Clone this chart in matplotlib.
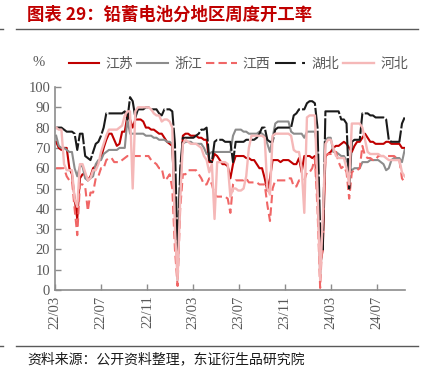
import matplotlib
matplotlib.use('Agg')
import matplotlib.pyplot as plt
import matplotlib.dates as mdates
from matplotlib.lines import Line2D
import pandas as pd

plt.rcParams['font.family'] = ['Noto Sans CJK SC', 'DejaVu Sans']

# weekly operating rate, %
dates = pd.date_range('2022-03-04', periods=133, freq='7D')

jiangsu = [73, 70, 69, 70, 70, 60, 57, 45, 35, 55,
           57, 57, 54, 56, 60, 61, 63, 65, 70, 74,
           77, 77, 74, 71, 72, 78, 78, 86, 84, 80,
           84, 84, 84, 83, 80, 80, 79, 79, 78, 77,
           77, 75, 73, 72, 71, 40, 10, 50, 76, 77,
           77, 76, 76, 76, 75, 75, 74, 74, 63, 63,
           67, 66, 64, 62, 62, 61, 55, 62, 66, 66,
           66, 66, 65, 65, 64, 64, 62, 60, 60, 55,
           49, 55, 64, 64, 64, 63, 64, 64, 64, 63,
           62, 62, 65, 58, 66, 66, 66, 65, 66, 50,
           12, 20, 66, 67, 68, 70, 71, 71, 72, 73,
           72, 70, 68, 71, 73, 73, 75, 77, 75, 73,
           73, 72, 72, 72, 72, 73, 73, 72, 72, 72,
           72, 70, 70]

zhejiang = [76, 71, 70, 70, 69, 68, 68, 60, 56, 61,
            61, 55, 54, 55, 56, 62, 64, 64, 67, 68,
            69, 69, 69, 69, 70, 70, 70, 84, 77, 77,
            77, 77, 77, 77, 76, 76, 76, 75, 75, 74,
            74, 74, 73, 73, 72, 40, 5, 55, 72, 73,
            73, 73, 72, 72, 72, 72, 70, 67, 67, 68,
            68, 68, 68, 68, 68, 68, 68, 76, 79, 79,
            79, 78, 78, 77, 77, 77, 77, 78, 77, 76,
            72, 68, 75, 82, 83, 83, 83, 83, 83, 78,
            77, 77, 77, 77, 75, 78, 78, 78, 78, 70,
            6, 30, 74, 75, 75, 68, 68, 67, 66, 66,
            64, 60, 59, 60, 60, 60, 63, 63, 63, 64,
            64, 64, 64, 63, 62, 59, 60, 64, 65, 65,
            65, 63, 69]

jiangxi = [60, 60, 60, 60, 56, 54, 54, 40, 27, 52,
           52, 51, 39, 48, 48, 55, 56, 60, 60, 64,
           65, 65, 63, 63, 63, 64, 65, 66, 66, 66,
           66, 66, 66, 66, 66, 66, 64, 63, 62, 60,
           60, 54, 55, 57, 50, 20, 2, 40, 57, 57,
           59, 59, 59, 59, 57, 55, 52, 52, 55, 52,
           47, 46, 46, 46, 46, 45, 38, 52, 54, 54,
           54, 54, 55, 53, 53, 53, 53, 52, 52, 52,
           42, 34, 50, 54, 54, 54, 54, 54, 55, 55,
           51, 51, 54, 54, 54, 58, 58, 60, 65, 40,
           1, 30, 66, 67, 67, 68, 68, 63, 60, 61,
           58, 45, 58, 59, 59, 60, 71, 66, 65, 65,
           64, 64, 66, 66, 66, 66, 66, 66, 66, 65,
           64, 55, 53]

hubei = [80, 80, 80, 79, 78, 78, 78, 77, 69, 77,
         77, 66, 65, 64, 68, 72, 73, 76, 80, 87,
         87, 87, 87, 87, 87, 87, 88, 84, 95, 93,
         85, 89, 89, 89, 90, 90, 89, 89, 89, 87,
         86, 89, 89, 89, 88, 72, 15, 60, 75, 75,
         75, 75, 75, 76, 77, 79, 79, 80, 64, 63,
         73, 74, 74, 74, 73, 73, 73, 63, 73, 73,
         73, 73, 74, 74, 74, 74, 75, 77, 80, 80,
         74, 73, 73, 79, 80, 80, 80, 80, 80, 80,
         86, 87, 89, 89, 89, 92, 93, 93, 92, 80,
         30, 20, 88, 88, 88, 88, 88, 88, 84, 84,
         82, 50, 73, 74, 74, 74, 87, 87, 87, 86,
         86, 85, 85, 85, 85, 84, 74, 73, 73, 73,
         73, 82, 85]

hebei = [80, 79, 79, 62, 59, 59, 59, 45, 41, 62,
         62, 58, 54, 55, 59, 59, 62, 68, 72, 76,
         79, 79, 79, 79, 80, 81, 86, 88, 88, 50,
         88, 90, 90, 90, 90, 90, 89, 87, 86, 86,
         83, 84, 84, 83, 80, 30, 5, 45, 72, 74,
         73, 72, 72, 72, 71, 70, 66, 64, 58, 62,
         35, 63, 63, 63, 63, 62, 46, 50, 50, 49,
         49, 50, 56, 70, 76, 76, 76, 76, 76, 75,
         50, 47, 76, 77, 77, 77, 77, 77, 77, 76,
         69, 68, 68, 60, 38, 85, 86, 86, 86, 50,
         5, 35, 72, 74, 74, 70, 66, 65, 65, 65,
         60, 52, 82, 82, 82, 82, 80, 74, 68, 67,
         67, 67, 67, 66, 66, 65, 64, 64, 64, 64,
         64, 58, 56]

tick_dates = pd.to_datetime(['2022-03-01', '2022-07-01', '2022-11-01', '2023-03-01',
                             '2023-07-01', '2023-11-01', '2024-03-01', '2024-07-01'])

fig = plt.figure(figsize=(4.39, 3.83), dpi=100)
ax = fig.add_axes([55/439, 1 - 290/383, 350/439, 203/383])

ax.plot(dates, jiangsu, color='#c00000', lw=1.5, label='江苏')
ax.plot(dates, zhejiang, color='#8c8c8c', lw=1.5, label='浙江')
ax.plot(dates, jiangxi, color='#f06666', lw=1.5, dashes=(4, 2), label='江西')
ax.plot(dates, hubei, color='#1a1a1a', lw=1.5, dashes=(10, 1), label='湖北')
ax.plot(dates, hebei, color='#f5b8b8', lw=1.7, label='河北')

ax.set_xlim(pd.Timestamp('2022-03-01'), pd.Timestamp('2024-09-14'))
ax.set_ylim(0, 100)
ax.set_yticks(range(0, 101, 10))
ax.set_xticks(tick_dates)
ax.xaxis.set_major_formatter(mdates.DateFormatter('%y/%m'))

for s in ['top', 'right']:
    ax.spines[s].set_visible(False)
for s in ['left', 'bottom']:
    ax.spines[s].set_color('#8c8c8c')
    ax.spines[s].set_linewidth(1.2)

ax.tick_params(axis='both', direction='in', length=4, width=1, color='#8c8c8c',
               labelcolor='#595959', labelsize=10.5)
ax.tick_params(axis='x', rotation=90, pad=4)
for lab in ax.get_xticklabels() + ax.get_yticklabels():
    lab.set_family('Liberation Serif')

# legend
handles = [Line2D([], [], color='#c00000', lw=1.5),
           Line2D([], [], color='#8c8c8c', lw=1.5),
           Line2D([], [], color='#f06666', lw=1.5, dashes=(4, 2)),
           Line2D([], [], color='#1a1a1a', lw=1.5, dashes=(10, 3)),
           Line2D([], [], color='#f5b8b8', lw=1.7)]
fig.legend(handles, ['江苏', '浙江', '江西', '湖北', '河北'], ncol=5, frameon=False,
           loc='center left', bbox_to_anchor=(56/439, 1 - 64/383),
           handlelength=2.2, handletextpad=0.45, columnspacing=0.3,
           prop={'family': ['Noto Sans CJK SC', 'DejaVu Sans'], 'size': 10},
           labelcolor='#595959')
fig.text(33/439, 1 - 62/383, '%', fontsize=10.5, color='#595959',
         family='Liberation Serif', va='center')

# title and frame lines
fig.text(27/439, 1 - 15/383, '图表 29：铅蓄电池分地区周度开工率', fontsize=12.5,
         color='#c00000', fontweight='bold', va='center')
for yy in (29, 346):
    fig.add_artist(Line2D([16/439, 418/439], [1 - yy/383, 1 - yy/383], color='#595959', lw=1))
    fig.add_artist(Line2D([0, 3/439], [1 - yy/383, 1 - yy/383], color='#595959', lw=1))
fig.text(27/439, 1 - 359/383, '资料来源：公开资料整理，东证衍生品研究院', fontsize=10,
         color='#1a1a1a', va='center')

fig.savefig('out.png', dpi=100)
